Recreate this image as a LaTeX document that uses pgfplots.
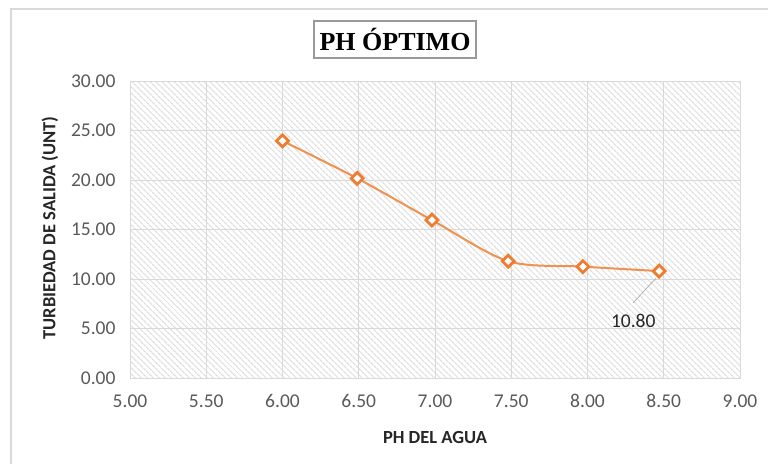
\documentclass[border=0pt]{standalone}
\usepackage{fontspec}
\setmainfont{Carlito}
\newfontfamily\titlefont{Liberation Serif}
\usepackage{pgfplots}
\pgfplotsset{compat=1.18}
\usetikzlibrary{patterns.meta}
\definecolor{excelorange}{HTML}{ED7D31}
\definecolor{gridgray}{HTML}{D9D9D9}
\definecolor{ticktext}{HTML}{595959}

\begin{document}
\begin{tikzpicture}
\path[use as bounding box] (0,0) rectangle (768pt,464pt);
% marco del grafico
\draw[gridgray, line width=1.2pt] (11pt,0) -- (11pt,455pt) -- (768pt,455pt);
% titulo
\node[draw=gray!80, line width=1.3pt, minimum width=162pt, minimum height=37pt, inner sep=0pt,
      font=\titlefont\bfseries\fontsize{26}{30}\selectfont] at (395pt,424.5pt) {PH ÓPTIMO};

\begin{axis}[
    at={(130pt,86pt)}, anchor=south west,
    scale only axis, width=610pt, height=297pt,
    xmin=5, xmax=9, ymin=0, ymax=30,
    xtick={5,5.5,...,9}, ytick={0,5,...,30},
    grid=major,
    major grid style={gridgray, line width=1pt},
    axis line style={gridgray, line width=1pt},
    major tick length=0pt,
    axis background/.style={pattern={Lines[angle=-45,distance=4pt,line width=1.3pt]}, pattern color=gray!25},
    /pgf/number format/.cd, fixed, fixed zerofill, precision=2, assume math mode=true,
    /pgfplots/.cd,
    ticklabel style={font=\fontsize{19.5}{21}\selectfont, text=ticktext},
    xticklabel style={yshift=-13pt},
    yticklabel style={xshift=-11pt},
]
\addplot[excelorange!85, line width=2pt, smooth, tension=0.5,
    mark=square*, mark size=4.2pt,
    mark options={fill=white, draw=excelorange, line width=2.8pt, rotate=45}]
coordinates {(6.00,23.95) (6.49,20.17) (6.98,15.95) (7.48,11.80) (7.97,11.25) (8.47,10.80)};

% etiqueta de datos
\draw[gray!60, line width=0.8pt] (axis cs:8.30,7.6) -- (axis cs:8.45,10.1);
\node[font=\fontsize{19.5}{21}\selectfont, text=black!85] at (axis cs:8.30,5.76) {10.80};
\end{axis}

% titulos de ejes
\node[font=\bfseries\fontsize{18.5}{20}\selectfont, text=black!85] at (435pt,27pt) {PH DEL AGUA};
\node[font=\bfseries\fontsize{18.5}{20}\selectfont, text=black!85, rotate=90] at (50pt,236pt) {TURBIEDAD DE SALIDA (UNT)};
\end{tikzpicture}
\end{document}
